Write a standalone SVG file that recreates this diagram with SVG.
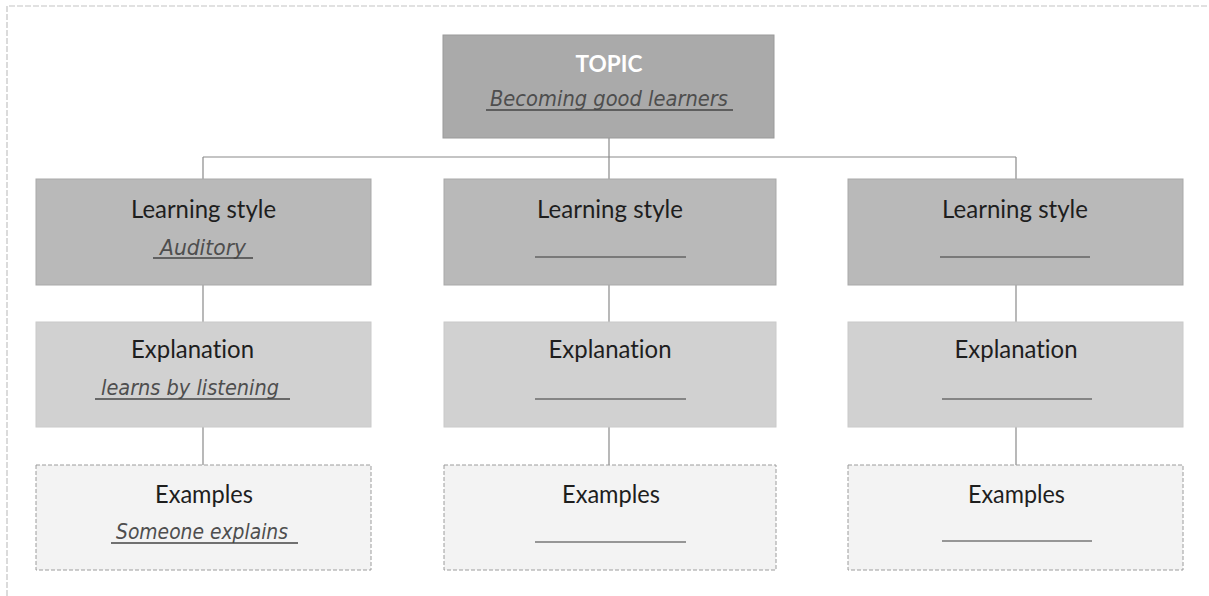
<svg xmlns="http://www.w3.org/2000/svg" width="1209" height="596" viewBox="0 0 1209 596">
  <style>
    .page { fill: #ffffff; }
    .frame { fill: none; stroke: #c4c4c4; stroke-width: 1.2; stroke-dasharray: 6 2; }
    .topic { fill: #aaaaaa; stroke: #9a9a9a; stroke-width: 1; }
    .style { fill: #b9b9b9; stroke: #a9a9a9; stroke-width: 1; }
    .expl { fill: #d1d1d1; stroke: #cacaca; stroke-width: 1; }
    .ex { fill: #f3f3f3; stroke: #9c9c9c; stroke-width: 1; stroke-dasharray: 4 2; }
    .conn { fill: none; stroke: #8a8a8a; stroke-width: 1.2; }
    .label { font-family: Lato, "Open Sans", sans-serif; font-size: 25px; fill: #1e1e1e; text-anchor: middle; font-variant-ligatures: none; }
    .title { font-family: Lato, "Open Sans", sans-serif; font-size: 22px; font-weight: bold; fill: #ffffff; text-anchor: middle; }
    .hand { font-family: "DejaVu Sans", "Noto Sans", sans-serif; font-style: italic; font-size: 22px; fill: #4e4e4e; text-anchor: middle; }
    .rule { stroke: #444444; stroke-width: 1.3; }
    .blank { stroke: #3a3a3a; stroke-width: 1.2; }
  </style>

  <rect class="page" x="0" y="0" width="1209" height="596"/>
  <!-- page border (top and left) -->
  <path class="frame" d="M7 596 V6 H1209"/>

  <!-- connectors -->
  <g id="connectors">
    <path class="conn" d="M609 138 V157"/>
    <path class="conn" d="M203 157 H1016"/>
    <path class="conn" d="M203 157 V179 M609 157 V179 M1016 157 V179"/>
    <path class="conn" d="M203 285 V322 M609 285 V322 M1016 285 V322"/>
    <path class="conn" d="M203 427 V465 M609 427 V465 M1016 427 V465"/>
  </g>

  <!-- topic -->
  <g id="topic">
    <rect class="topic" x="443" y="35" width="331" height="103"/>
    <text class="title" x="609" y="72" textLength="67" lengthAdjust="spacingAndGlyphs">TOPIC</text>
    <text class="hand" x="609" y="106" textLength="238" lengthAdjust="spacingAndGlyphs">Becoming good learners</text>
    <line class="rule" x1="486" y1="110" x2="733" y2="110"/>
  </g>

  <!-- left column -->
  <g id="style-1">
    <rect class="style" x="36" y="179" width="335" height="106"/>
    <text class="label" x="203.5" y="218" textLength="145" lengthAdjust="spacingAndGlyphs">Learning style</text>
    <text class="hand" x="203" y="255" textLength="86" lengthAdjust="spacingAndGlyphs">Auditory</text>
    <line class="rule" x1="153" y1="258" x2="253" y2="258"/>
  </g>
  <g id="explanation-1">
    <rect class="expl" x="36" y="322" width="335" height="105"/>
    <text class="label" x="192.5" y="358" textLength="123" lengthAdjust="spacingAndGlyphs">Explanation</text>
    <text class="hand" x="190" y="395" textLength="178" lengthAdjust="spacingAndGlyphs">learns by listening</text>
    <line class="rule" x1="95" y1="399" x2="290" y2="399"/>
  </g>
  <g id="examples-1">
    <rect class="ex" x="36" y="465" width="335" height="105"/>
    <text class="label" x="204" y="503" textLength="98" lengthAdjust="spacingAndGlyphs">Examples</text>
    <text class="hand" x="202" y="539" textLength="172" lengthAdjust="spacingAndGlyphs">Someone explains</text>
    <line class="rule" x1="111" y1="543" x2="298" y2="543"/>
  </g>

  <!-- centre column -->
  <g id="style-2">
    <rect class="style" x="444" y="179" width="332" height="106"/>
    <text class="label" x="610" y="218" textLength="146" lengthAdjust="spacingAndGlyphs">Learning style</text>
    <line class="blank" x1="535" y1="257" x2="686" y2="257"/>
  </g>
  <g id="explanation-2">
    <rect class="expl" x="444" y="322" width="332" height="105"/>
    <text class="label" x="610" y="358" textLength="123" lengthAdjust="spacingAndGlyphs">Explanation</text>
    <line class="blank" x1="535" y1="399" x2="686" y2="399"/>
  </g>
  <g id="examples-2">
    <rect class="ex" x="444" y="465" width="332" height="105"/>
    <text class="label" x="611" y="503" textLength="98" lengthAdjust="spacingAndGlyphs">Examples</text>
    <line class="blank" x1="535" y1="542" x2="686" y2="542"/>
  </g>

  <!-- right column -->
  <g id="style-3">
    <rect class="style" x="848" y="179" width="335" height="106"/>
    <text class="label" x="1015" y="218" textLength="146" lengthAdjust="spacingAndGlyphs">Learning style</text>
    <line class="blank" x1="940" y1="257" x2="1090" y2="257"/>
  </g>
  <g id="explanation-3">
    <rect class="expl" x="848" y="322" width="335" height="105"/>
    <text class="label" x="1016" y="358" textLength="123" lengthAdjust="spacingAndGlyphs">Explanation</text>
    <line class="blank" x1="942" y1="399" x2="1092" y2="399"/>
  </g>
  <g id="examples-3">
    <rect class="ex" x="848" y="465" width="335" height="105"/>
    <text class="label" x="1016.5" y="503" textLength="97" lengthAdjust="spacingAndGlyphs">Examples</text>
    <line class="blank" x1="942" y1="541" x2="1092" y2="541"/>
  </g>
</svg>
